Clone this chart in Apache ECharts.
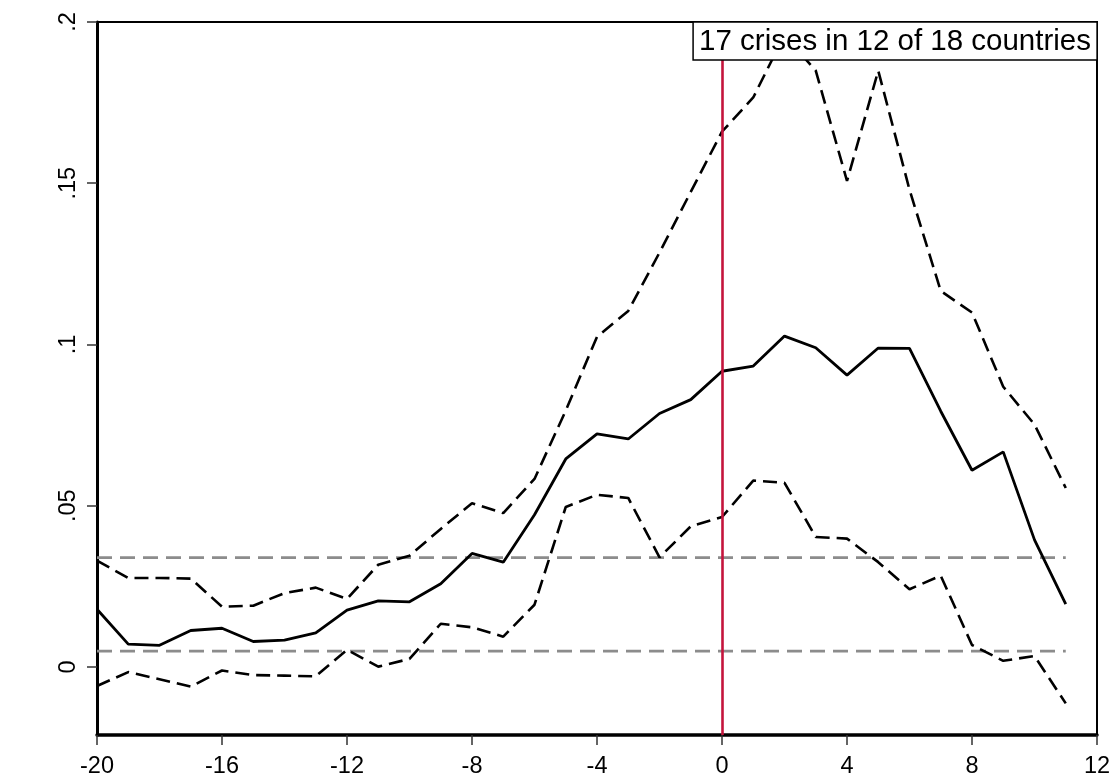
<!DOCTYPE html>
<html>
<head>
<meta charset="utf-8">
<script src="https://cdn.jsdelivr.net/npm/echarts@6/dist/echarts.min.js"></script>
<style>html,body{margin:0;padding:0;background:#fff}#c{width:1115px;height:780px}</style>
</head>
<body>
<div id="c"></div>
<script>
// Data
const periods = [-20,-19,-18,-17,-16,-15,-14,-13,-12,-11,-10,-9,-8,-7,-6,-5,-4,-3,-2,-1,0,1,2,3,4,5,6,7,8,9,10,11];
const meanValues = [0.0179,0.0071,0.0067,0.0113,0.0120,0.0079,0.0083,0.0106,0.0176,0.0205,0.0202,0.0258,0.0352,0.0325,0.0472,0.0645,0.0723,0.0707,0.0786,0.0829,0.0917,0.0933,0.1026,0.0990,0.0905,0.0989,0.0988,0.0793,0.0610,0.0667,0.0394,0.0195];
const upperValues = [0.0330,0.0276,0.0276,0.0274,0.0187,0.0190,0.0229,0.0246,0.0211,0.0317,0.0345,0.0428,0.0508,0.0477,0.0583,0.0795,0.1024,0.1104,0.1285,0.1473,0.1660,0.1766,0.1960,0.1849,0.1507,0.1849,0.1480,0.1166,0.1099,0.0869,0.0752,0.0555];
const lowerValues = [-0.0059,-0.0016,-0.0038,-0.0061,-0.0011,-0.0025,-0.0027,-0.0029,0.0053,0.0001,0.0025,0.0134,0.0123,0.0094,0.0193,0.0496,0.0534,0.0524,0.0340,0.0436,0.0465,0.0578,0.0571,0.0403,0.0398,0.0325,0.0241,0.0283,0.0068,0.0019,0.0034,-0.0113];
const bandX = [-20, 11];
const bandUpper = [0.0339, 0.0339];
const bandLower = [0.0049, 0.0049];
const crisisX = 0;
const xTicks = [-20,-16,-12,-8,-4,0,4,8,12];
const yTicks = [0, 0.05, 0.1, 0.15, 0.2];
const yTickLabels = ['0', '.05', '.1', '.15', '.2'];
const boxText = '17 crises in 12 of 18 countries';

const pair = (xs, ys) => xs.map((x, i) => [x, ys[i]]);
const FONT = '"Liberation Sans", Arial, Helvetica, sans-serif';

const chart = echarts.init(document.getElementById('c'), null, {renderer: 'canvas'});
chart.setOption({
  animation: false,
  backgroundColor: '#fff',
  title: {
    text: boxText,
    right: 18,
    top: 22,
    padding: [4, 6, 3, 6],
    borderColor: '#000',
    borderWidth: 1.5,
    backgroundColor: '#fff',
    textStyle: {fontFamily: FONT, fontSize: 29.5, fontWeight: 'normal', color: '#000', lineHeight: 31}
  },
  grid: {left: 97, right: 18, top: 22, bottom: 45, show: true, borderColor: '#000', borderWidth: 2, backgroundColor: '#fff'},
  xAxis: {
    type: 'value', min: -20, max: 12, interval: 4,
    axisLine: {show: true, onZero: false, lineStyle: {color: '#000', width: 3.5}},
    axisTick: {show: true, length: 10, lineStyle: {color: '#333', width: 1.5}},
    axisLabel: {fontFamily: FONT, fontSize: 23.5, color: '#000', margin: 20, showMinLabel: true, showMaxLabel: true,
      customValues: xTicks},
    splitLine: {show: false}
  },
  yAxis: {
    type: 'value', min: -0.0211, max: 0.2,
    axisLine: {show: true, onZero: false, lineStyle: {color: '#000', width: 3}},
    axisTick: {show: true, length: 10, lineStyle: {color: '#333', width: 1.5}, customValues: yTicks},
    axisLabel: {fontFamily: FONT, fontSize: 23.5, color: '#000', rotate: 90, margin: 16,
      customValues: yTicks,
      formatter: v => { const i = yTicks.findIndex(t => Math.abs(t - v) < 1e-9); return i >= 0 ? yTickLabels[i] : ''; }},
    splitLine: {show: false}
  },
  series: [
    {type: 'line', data: pair(bandX, bandUpper), symbol: 'none', z: 1,
      lineStyle: {color: '#8c8c8c', width: 2.6, type: [15, 8]}},
    {type: 'line', data: pair(bandX, bandLower), symbol: 'none', z: 1,
      lineStyle: {color: '#8c8c8c', width: 2.6, type: [15, 8]}},
    {type: 'line', data: pair(periods, upperValues), symbol: 'none', z: 3,
      lineStyle: {color: '#000', width: 2.6, type: [14, 7]}},
    {type: 'line', data: pair(periods, lowerValues), symbol: 'none', z: 3,
      lineStyle: {color: '#000', width: 2.6, type: [14, 7]}},
    {type: 'line', data: pair(periods, meanValues), symbol: 'none', z: 3,
      lineStyle: {color: '#000', width: 2.8, type: 'solid'},
      markLine: {silent: true, symbol: ['none', 'none'], label: {show: false}, animation: false,
        lineStyle: {color: '#C4143C', width: 2.6, type: 'solid'},
        data: [{xAxis: crisisX}]}}
  ]
});
</script>
</body>
</html>
